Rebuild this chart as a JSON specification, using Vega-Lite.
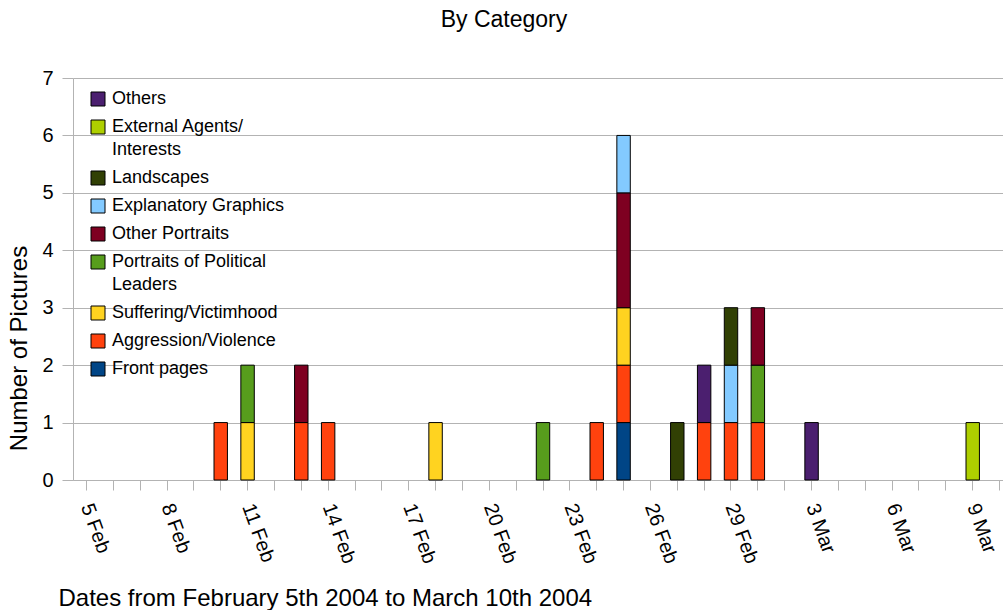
{
  "$schema": "https://vega.github.io/schema/vega-lite/v6.json",
  "autosize": {"type": "none"},
  "padding": {"left": 73, "top": 78, "right": 0, "bottom": 130},
  "width": 930,
  "height": 402,
  "background": "white",
  "title": {
    "text": "By Category",
    "anchor": "middle",
    "frame": "group",
    "dx": -34,
    "fontSize": 23,
    "fontWeight": "normal",
    "font": "Liberation Sans",
    "color": "black",
    "offset": 36
  },
  "data": {
    "values": [
      {"date": "2004-02-10", "category": "Aggression/Violence", "count": 1},
      {"date": "2004-02-11", "category": "Suffering/Victimhood", "count": 1},
      {"date": "2004-02-11", "category": "Portraits of Political Leaders", "count": 1},
      {"date": "2004-02-13", "category": "Aggression/Violence", "count": 1},
      {"date": "2004-02-13", "category": "Other Portraits", "count": 1},
      {"date": "2004-02-14", "category": "Aggression/Violence", "count": 1},
      {"date": "2004-02-18", "category": "Suffering/Victimhood", "count": 1},
      {"date": "2004-02-22", "category": "Portraits of Political Leaders", "count": 1},
      {"date": "2004-02-24", "category": "Aggression/Violence", "count": 1},
      {"date": "2004-02-25", "category": "Front pages", "count": 1},
      {"date": "2004-02-25", "category": "Aggression/Violence", "count": 1},
      {"date": "2004-02-25", "category": "Suffering/Victimhood", "count": 1},
      {"date": "2004-02-25", "category": "Other Portraits", "count": 2},
      {"date": "2004-02-25", "category": "Explanatory Graphics", "count": 1},
      {"date": "2004-02-27", "category": "Landscapes", "count": 1},
      {"date": "2004-02-28", "category": "Aggression/Violence", "count": 1},
      {"date": "2004-02-28", "category": "Others", "count": 1},
      {"date": "2004-02-29", "category": "Aggression/Violence", "count": 1},
      {"date": "2004-02-29", "category": "Explanatory Graphics", "count": 1},
      {"date": "2004-02-29", "category": "Landscapes", "count": 1},
      {"date": "2004-03-01", "category": "Aggression/Violence", "count": 1},
      {"date": "2004-03-01", "category": "Portraits of Political Leaders", "count": 1},
      {"date": "2004-03-01", "category": "Other Portraits", "count": 1},
      {"date": "2004-03-03", "category": "Others", "count": 1},
      {"date": "2004-03-09", "category": "External Agents/Interests", "count": 1}
    ]
  },
  "transform": [
    {
      "calculate": "indexof(['Front pages', 'Aggression/Violence', 'Suffering/Victimhood', 'Portraits of Political Leaders', 'Other Portraits', 'Explanatory Graphics', 'Landscapes', 'External Agents/Interests', 'Others'], datum.category)",
      "as": "stack_rank"
    }
  ],
  "mark": {"type": "bar", "stroke": "black", "strokeWidth": 1},
  "encoding": {
    "x": {
      "field": "date",
      "type": "ordinal",
      "scale": {
        "domain": [
          "2004-02-05", "2004-02-06", "2004-02-07", "2004-02-08", "2004-02-09",
          "2004-02-10", "2004-02-11", "2004-02-12", "2004-02-13", "2004-02-14",
          "2004-02-15", "2004-02-16", "2004-02-17", "2004-02-18", "2004-02-19",
          "2004-02-20", "2004-02-21", "2004-02-22", "2004-02-23", "2004-02-24",
          "2004-02-25", "2004-02-26", "2004-02-27", "2004-02-28", "2004-02-29",
          "2004-03-01", "2004-03-02", "2004-03-03", "2004-03-04", "2004-03-05",
          "2004-03-06", "2004-03-07", "2004-03-08", "2004-03-09", "2004-03-10"
        ],
        "range": [0, 940],
        "paddingInner": 0.5,
        "paddingOuter": 0.25
      },
      "axis": {
        "title": "Dates from February 5th 2004 to March 10th 2004",
        "titleFontSize": 24,
        "titleFontWeight": "normal",
        "titleAnchor": "start",
        "titleAlign": "left",
        "titleBaseline": "alphabetic",
        "titleX": -15,
        "titleY": 125,
        "labelExpr": "round((toDate(datum.value) - toDate('2004-02-05')) / 86400000) % 3 == 0 ? utcFormat(toDate(datum.value), '%-d %b') : ''",
        "labelAngle": 70,
        "labelAlign": "left",
        "labelBaseline": "middle",
        "labelFontSize": 20,
        "labelPadding": 14,
        "labelOverlap": false,
        "tickSize": 10,
        "grid": false
      }
    },
    "y": {
      "field": "count",
      "type": "quantitative",
      "aggregate": "sum",
      "scale": {"domain": [0, 7], "nice": false},
      "axis": {
        "title": "Number of Pictures",
        "titleFontSize": 24,
        "titleFontWeight": "normal",
        "titleAngle": -90,
        "titleAlign": "center",
        "titleBaseline": "middle",
        "titleX": -54,
        "titleY": 270,
        "values": [0, 1, 2, 3, 4, 5, 6, 7],
        "labelFontSize": 20,
        "labelPadding": 9,
        "tickSize": 11,
        "grid": true
      }
    },
    "order": {"field": "stack_rank", "type": "quantitative", "sort": "ascending"},
    "color": {
      "field": "category",
      "type": "nominal",
      "sort": [
        "Others",
        "External Agents/Interests",
        "Landscapes",
        "Explanatory Graphics",
        "Other Portraits",
        "Portraits of Political Leaders",
        "Suffering/Victimhood",
        "Aggression/Violence",
        "Front pages"
      ],
      "scale": {
        "domain": [
          "Others",
          "External Agents/Interests",
          "Landscapes",
          "Explanatory Graphics",
          "Other Portraits",
          "Portraits of Political Leaders",
          "Suffering/Victimhood",
          "Aggression/Violence",
          "Front pages"
        ],
        "range": ["#4b1f6f", "#aecf00", "#314004", "#83caff", "#7e0021", "#579d1c", "#ffd320", "#ff420e", "#004586"]
      },
      "legend": {
        "title": null,
        "orient": "none",
        "legendX": 16,
        "legendY": 12,
        "padding": 0,
        "symbolType": "square",
        "symbolSize": 196,
        "symbolStrokeColor": "black",
        "symbolStrokeWidth": 1,
        "symbolOpacity": 1,
        "labelFontSize": 18,
        "labelOffset": 5,
        "labelBaseline": "middle",
        "labelLimit": 400,
        "rowPadding": 10,
        "labelExpr": "datum.label == 'External Agents/Interests' ? ['External Agents/', 'Interests'] : datum.label == 'Portraits of Political Leaders' ? ['Portraits of Political', 'Leaders'] : datum.label"
      }
    }
  },
  "config": {
    "font": "Liberation Sans",
    "view": {"stroke": null},
    "style": {"guide-label": {"lineHeight": 23}},
    "axis": {
      "domainColor": "#b3b3b3",
      "tickColor": "#b3b3b3",
      "gridColor": "#b3b3b3",
      "labelColor": "black",
      "titleColor": "black",
      "labelFont": "Liberation Sans",
      "titleFont": "Liberation Sans"
    },
    "legend": {"labelColor": "black", "labelFont": "Liberation Sans"}
  }
}
